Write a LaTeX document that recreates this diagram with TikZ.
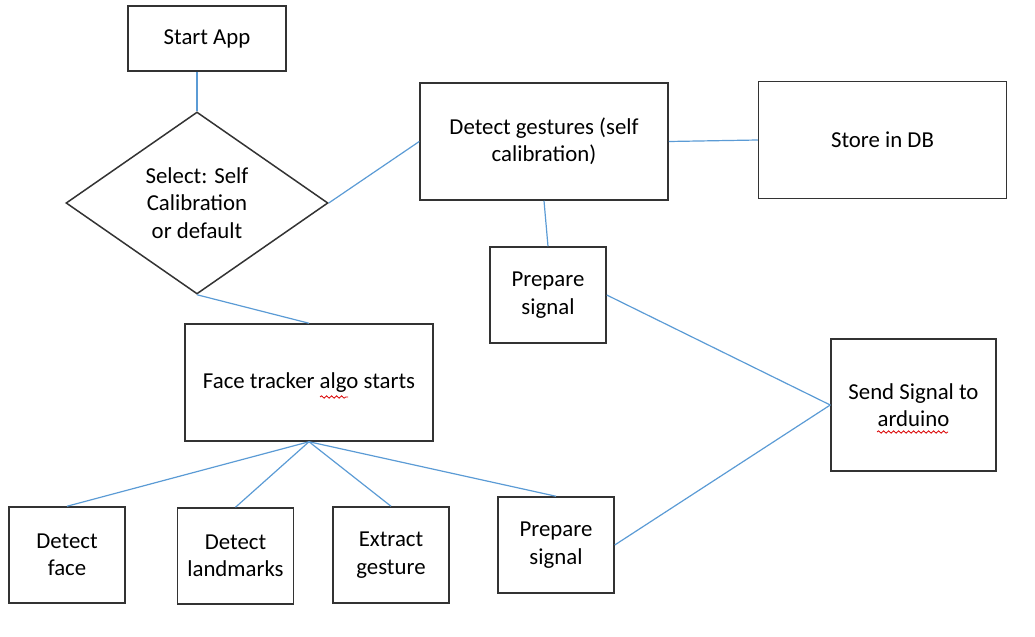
\documentclass[tikz,border=0pt]{standalone}
\usepackage{fontspec}
\setmainfont{Carlito}
\usetikzlibrary{shapes.geometric,decorations.pathmorphing}
\definecolor{wordblue}{RGB}{91,155,213}

\begin{document}
\begin{tikzpicture}[x=0.5pt,y=-0.5pt,
  main node/.style={draw=black!80,line width=0.75pt,rectangle,align=center,inner sep=2pt,font=\fontsize{11.4}{13.7}\selectfont},
  small node/.style={main node,minimum width=58pt,minimum height=48pt},
  big node/.style={main node,minimum width=124pt,minimum height=58.5pt},
  spell/.style={red!85!black,line width=0.4pt,decorate,decoration={snake,amplitude=0.6pt,segment length=2.5pt}}]

		\useasboundingbox (0,0) rectangle (1035,637);

		\node[main node,minimum width=79pt,minimum height=32.5pt] (1) at (207,38.5) {Start App};
		\node[main node,diamond,minimum width=131pt,minimum height=91pt,inner sep=0pt] (2) at (197,203) {Select: Self\\Calibration\\or default};
		\node[big node] (3) at (544,141.5) {Detect gestures (self\\calibration)};
		\node[big node] (4) at (882.5,140) {Store in DB};
		\node[small node] (5) at (548,295) {Prepare\\signal};
		\node[big node] (6) at (309,382.5) {Face tracker algo starts};
		\node[main node,minimum width=82.5pt,minimum height=66pt] (7) at (913.5,405) {Send Signal to\\arduino};
		\node[small node] (8) at (67,555) {Detect\\face};
		\node[small node] (9) at (235.5,556) {Detect\\landmarks};
		\node[small node] (10) at (391,555) {Extract\\gesture};
		\node[small node] (11) at (556,545) {Prepare\\signal};

		\path[draw=wordblue,line width=0.6pt]
		(1.south -| 2.north) edge (2.north)
		(2.east) edge (3.west)
		(2.south) edge (6.north)
		(3.south) edge (5.north)
		(3.east) edge (4.west)
		(5.east) edge (7.west)
		(11.east) edge (7.west)
		(6.south) edge (8.north)
		edge (9.north)
		edge (10.north)
		edge (11.north);

		% spell check marks
		\draw[spell] (320,397) -- (348,397);
		\draw[spell] (877,432) -- (948,432);

\end{tikzpicture}
\end{document}
